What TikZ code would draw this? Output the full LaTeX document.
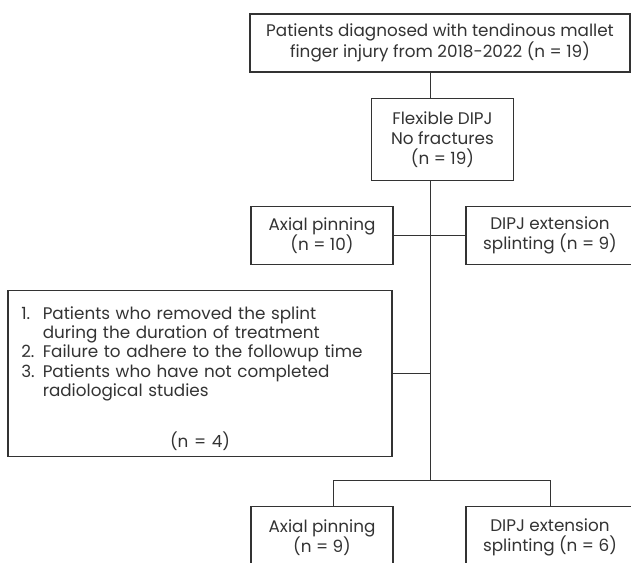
\documentclass[tikz,border=0pt]{standalone}
\usepackage{fontspec}
\setmainfont{Poppins}
\usepackage{xcolor}
\usepackage{tikz}
\usetikzlibrary{positioning}
\definecolor{inkcolor}{RGB}{51, 51, 51}
\tikzstyle{stage} = [rectangle, draw=inkcolor, line width=0.8pt, text=inkcolor, align=center, inner sep=0pt]
\tikzstyle{listbox} = [rectangle, draw=inkcolor, line width=0.8pt, text=inkcolor, align=left, inner xsep=10pt, inner ysep=0pt, text width=268pt]
\tikzstyle{link} = [draw=inkcolor, line width=0.75pt]

\begin{document}
\begin{tikzpicture}[x=0.75pt, y=-0.75pt, every node/.style={font=\fontsize{12.6}{15.2}\selectfont}]
\useasboundingbox (0,0) rectangle (631,563);

% Inclusion
\node (intake) [stage, minimum width=285pt, minimum height=43.5pt] at (440,43) {Patients diagnosed with tendinous mallet\\finger injury from 2018-2022 (n = 19)};
\node (flex) [stage, minimum width=107pt, minimum height=62pt] at (442.5,139.5) {Flexible DIPJ\\No fractures\\(n = 19)};

% Primer reparto
\node (axial1) [stage, minimum width=106.5pt, minimum height=44pt] at (322,235.5) {Axial pinning\\(n = 10)};
\node (splint1) [stage, minimum width=126pt, minimum height=44pt] at (550,235.5) {DIPJ extension\\splinting (n = 9)};

% Exclusiones
\node (excl) [listbox, minimum height=125pt] at (200,373.5) {%
\fontsize{12.6}{14.6}\selectfont
\begin{tabular}{@{}l@{\hspace{6pt}}l@{}}
1. & Patients who removed the splint\\
   & during the duration of treatment\\
2. & Failure to adhere to the followup time\\
3. & Patients who have not completed\\
   & radiological studies
\end{tabular}\par\vspace{21pt}
\hspace*{\fill}(n = 4)\hspace*{\fill}\par\vspace{-7pt}};

% Reparto final
\node (axial2) [stage, minimum width=106.5pt, minimum height=47pt] at (322,537.5) {Axial pinning\\(n = 9)};
\node (splint2) [stage, minimum width=126pt, minimum height=47pt] at (550,537.5) {DIPJ extension\\splinting (n = 6)};

% Lineas
\coordinate (trunk) at (430.5,480);
\coordinate (armL) at (333,480);
\coordinate (armR) at (550,480);
\draw [link] (intake.south -| trunk) -- (flex.north -| trunk);
\draw [link] (flex.south -| trunk) -- (trunk);
\draw [link] (axial1.east) -- (splint1.west);
\draw [link] (excl.east) -- (excl.east -| trunk);
\draw [link] (armL) -- (armR);
\draw [link] (armL) -- (armL |- axial2.north);
\draw [link] (armR) -- (splint2.north);

\end{tikzpicture}
\end{document}
